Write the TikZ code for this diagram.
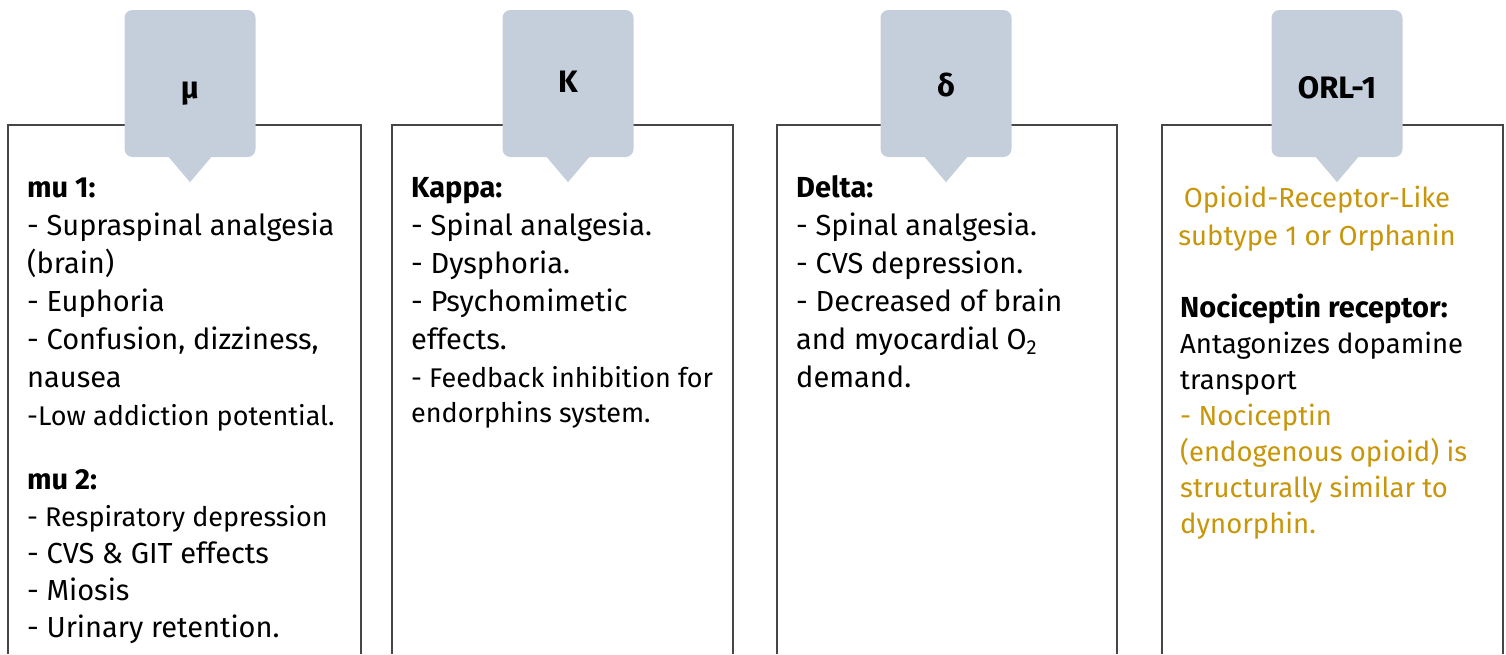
\documentclass[tikz,border=0pt]{standalone}
\usepackage{fontspec}
\setmainfont{Fira Sans}
\definecolor{tabgrey}{RGB}{197,207,219}
\definecolor{ochre}{RGB}{200,150,10}
\definecolor{framegrey}{RGB}{70,70,70}
\tikzset{
  frame/.style={draw=framegrey, line width=1.5pt},
  tab/.style={fill=tabgrey, rounded corners=8pt, minimum width=131pt, minimum height=147pt, inner sep=0pt},
  tablabel/.style={inner sep=0pt, font=\bfseries\fontsize{31}{34}\selectfont},
  body/.style={anchor=base west, align=left, inner sep=0pt, font=\fontsize{29}{38}\selectfont},
  smallbody/.style={anchor=base west, align=left, inner sep=0pt, font=\fontsize{27}{35}\selectfont},
}
\begin{document}
\begin{tikzpicture} [x=1pt, y=-1pt]
\useasboundingbox (0,0) rectangle (1506,654);
% frames, open at the bottom
\draw[frame] (8,654) |- (361,125) -- (361,654);
\draw[frame] (392,654) |- (733,125) -- (733,654);
\draw[frame] (777,654) |- (1117,125) -- (1117,654);
\draw[frame] (1162,654) |- (1503,125) -- (1503,654);
% tabs
\node[tab] (mu) at (190,83.5) {};
\node[tab] (kappa) at (568,83.5) {};
\node[tab] (delta) at (946,83.5) {};
\node[tab] (orl) at (1337,83.5) {};
\fill[tabgrey] ([xshift=-22pt, yshift=1pt]mu.south) -- ([yshift=-25pt]mu.south) -- ([xshift=22pt, yshift=1pt]mu.south) -- cycle;
\fill[tabgrey] ([xshift=-22pt, yshift=1pt]kappa.south) -- ([yshift=-25pt]kappa.south) -- ([xshift=22pt, yshift=1pt]kappa.south) -- cycle;
\fill[tabgrey] ([xshift=-22pt, yshift=1pt]delta.south) -- ([yshift=-25pt]delta.south) -- ([xshift=22pt, yshift=1pt]delta.south) -- cycle;
\fill[tabgrey] ([xshift=-22pt, yshift=1pt]orl.south) -- ([yshift=-25pt]orl.south) -- ([xshift=22pt, yshift=1pt]orl.south) -- cycle;
\node[tablabel] (mulab) at (190,94) {μ};
\node[tablabel] (kappalab) at (568,82) {K};
\node[tablabel] (deltalab) at (946,85) {δ};
\node[tablabel] (orllab) at (1337,88) {ORL-1};
% mu (base anchor sits on the last line)
\node[body] (mu1) at (27,387) {\textbf{mu 1:}\\- Supraspinal analgesia\\(brain)\\- Euphoria\\- Confusion, dizziness,\\nausea};
\node[smallbody] (mulow) at (27,425) {-Low addiction potential.};
\node[body, font=\fontsize{29}{37}\selectfont] (mu2) at (27,637) {\textbf{mu 2:}\\{\fontsize{27}{37}\selectfont - Respiratory depression}\\- CVS \& GIT effects\\- Miosis\\- Urinary retention.};
% kappa
\node[body] (kap) at (411,349) {\textbf{Kappa:}\\- Spinal analgesia.\\- Dysphoria.\\- Psychomimetic\\effects.};
\node[smallbody] (kapfb) at (411,422) {- Feedback inhibition for\\endorphins system.};
% delta
\node[body] (del) at (796,387) {\textbf{Delta:}\\- Spinal analgesia.\\- CVS depression.\\- Decreased of brain\\and myocardial O\textsubscript{2}\\demand.};
% ORL-1
\node[body, anchor=base, align=center, text=ochre, font=\fontsize{27.5}{38}\selectfont] (orlname) at (1317,245) {Opioid-Receptor-Like\\subtype 1 or Orphanin};
\node[smallbody, font=\fontsize{27.5}{36}\selectfont] (noci) at (1180,533) {{\fontsize{29}{36}\selectfont\textbf{Nociceptin receptor:}}\\Antagonizes dopamine\\transport\\\textcolor{ochre}{- Nociceptin}\\\textcolor{ochre}{(endogenous opioid) is}\\\textcolor{ochre}{structurally similar to}\\\textcolor{ochre}{dynorphin.}};
\end{tikzpicture}
\end{document}
